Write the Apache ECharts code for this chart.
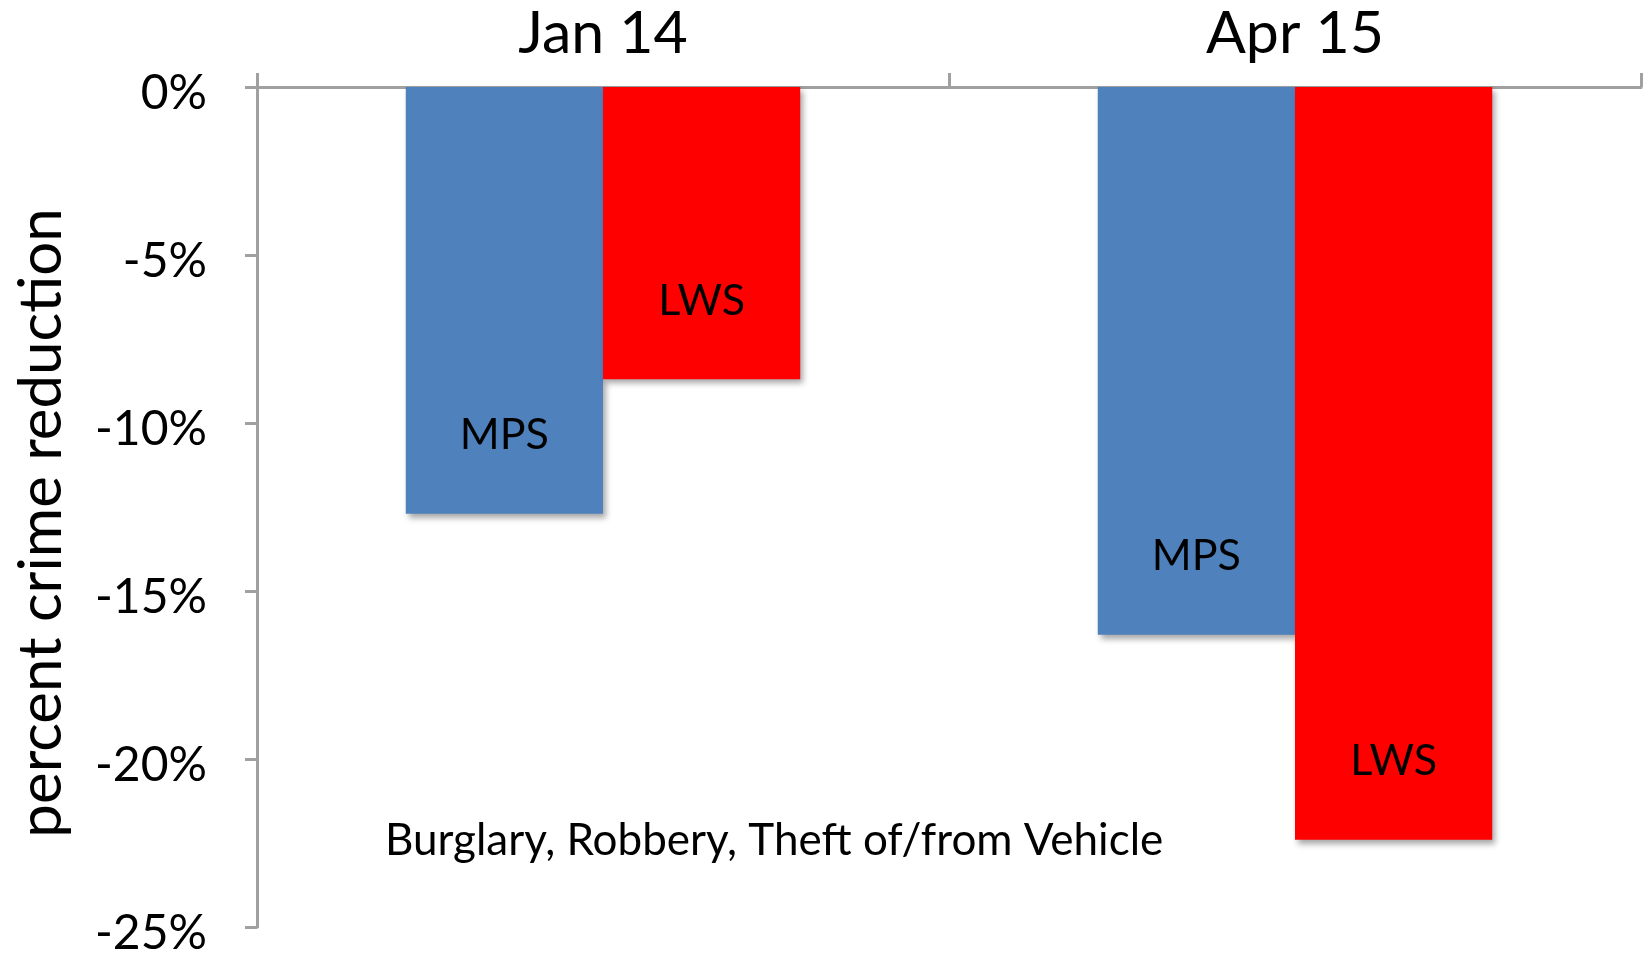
<!DOCTYPE html>
<html>
<head>
<meta charset="utf-8">
<script src="https://cdn.jsdelivr.net/npm/echarts@6/dist/echarts.min.js"></script>
<style>
html,body{margin:0;padding:0;background:#fff;}
#chart{width:1646px;height:958px;}
</style>
</head>
<body>
<div id="chart"></div>
<script>
const categories = ['Jan 14', 'Apr 15'];
const seriesNames = ['MPS', 'LWS'];
const mpsValues = [-12.7, -16.3];
const lwsValues = [-8.7, -22.4];
const yTicks = [0, -5, -10, -15, -20, -25];
const annotationText = 'Burglary, Robbery, Theft of/from Vehicle';

const FONT = 'Lato';
const chart = echarts.init(document.getElementById('chart'));

function barLabel(name) {
  return {
    show: true,
    position: 'insideBottom',
    distance: 57,
    formatter: name,
    color: '#000',
    fontFamily: FONT,
    fontSize: 43
  };
}
const shadow = {
  shadowColor: 'rgba(0,0,0,0.35)',
  shadowBlur: 6,
  shadowOffsetX: 3,
  shadowOffsetY: 4
};

chart.setOption({
  animation: false,
  backgroundColor: '#fff',
  grid: { left: 257, right: 5, top: 87, bottom: 28, containLabel: false },
  xAxis: {
    type: 'category',
    position: 'top',
    data: categories,
    axisLine: { show: true, lineStyle: { color: '#a0a0a0', width: 3 } },
    axisTick: { show: true, length: 14, alignWithLabel: false, lineStyle: { color: '#a0a0a0', width: 3 } },
    axisLabel: { color: '#000', fontFamily: FONT, fontSize: 59, margin: 24 },
    splitLine: { show: false }
  },
  yAxis: {
    type: 'value',
    min: -25,
    max: 0,
    interval: 5,
    name: 'percent crime reduction',
    nameLocation: 'middle',
    nameGap: 185,
    nameTextStyle: { color: '#000', fontFamily: FONT, fontSize: 60, padding: [0, 32, 0, 0] },
    axisLine: { show: true, lineStyle: { color: '#a0a0a0', width: 3 } },
    axisTick: { show: true, length: 12, lineStyle: { color: '#a0a0a0', width: 3 } },
    axisLabel: {
      color: '#000', fontFamily: FONT, fontSize: 48, margin: 50,
      verticalAlign: 'top', lineHeight: 14,
      formatter: function (v) { return yTicks.indexOf(v) >= 0 ? v + '%' : ''; }
    },
    splitLine: { show: false }
  },
  series: [
    {
      name: seriesNames[0], type: 'bar', data: mpsValues,
      barGap: '0%', barCategoryGap: '43%',
      itemStyle: Object.assign({ color: '#4f81bd' }, shadow),
      label: barLabel(seriesNames[0])
    },
    {
      name: seriesNames[1], type: 'bar', data: lwsValues,
      barGap: '0%', barCategoryGap: '43%',
      itemStyle: Object.assign({ color: '#ff0000' }, shadow),
      label: barLabel(seriesNames[1])
    }
  ],
  graphic: [{
    type: 'text',
    left: 385,
    top: 819,
    style: { text: annotationText, fill: '#000', font: '44px ' + FONT }
  }]
});
</script>
</body>
</html>
